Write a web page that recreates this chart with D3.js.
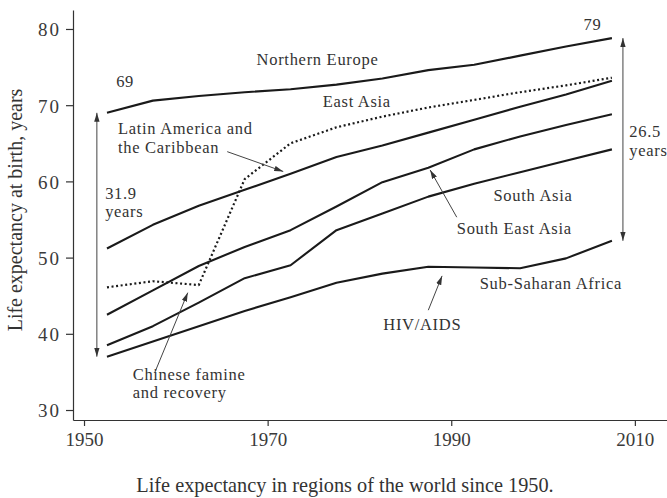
<!DOCTYPE html>
<html>
<meta charset="utf-8">
<title>Life expectancy in regions of the world since 1950</title>
<script src="https://d3js.org/d3.v7.min.js"></script>
<style>
body { margin: 0; background: #fff; }
text { font-family: "Liberation Serif", "Times New Roman", serif; fill: #333; }
.line { fill: none; stroke: #1a1a1a; stroke-width: 2.1; stroke-linejoin: round; }
.line.dotted { stroke-dasharray: 2, 2.6; stroke-width: 2.2; }
.axis path, .axis line { stroke: #333; stroke-width: 1.2; }
.axis text { font-size: 19px; fill: #3a3a3a; }
.note { stroke: #444; stroke-width: 1; fill: none; }
.label { font-size: 16.5px; letter-spacing: 0.7px; }
</style>
<body>
<svg width="667" height="498"></svg>
<script>
// five-year period midpoints
var years = [1952.5, 1957.5, 1962.5, 1967.5, 1972.5, 1977.5, 1982.5, 1987.5, 1992.5, 1997.5, 2002.5, 2007.5];

var northernEurope   = [69.0, 70.6, 71.2, 71.7, 72.1, 72.7, 73.5, 74.6, 75.3, 76.5, 77.7, 78.8];
var eastAsia         = [46.1, 46.9, 46.4, 60.3, 65.0, 67.1, 68.5, 69.7, 70.7, 71.7, 72.6, 73.6];
var latinAmerica     = [51.2, 54.3, 56.8, 58.9, 61.0, 63.2, 64.7, 66.4, 68.1, 69.8, 71.4, 73.2];
var southEastAsia    = [42.5, 45.7, 48.9, 51.4, 53.6, 56.7, 59.9, 61.8, 64.2, 65.9, 67.4, 68.8];
var southAsia        = [38.5, 41.0, 44.1, 47.3, 49.0, 53.6, 55.8, 58.0, 59.7, 61.2, 62.7, 64.2];
var subSaharanAfrica = [37.0, 39.0, 41.0, 43.0, 44.8, 46.7, 47.9, 48.8, 48.7, 48.6, 49.9, 52.2];

var xTicks = [1950, 1970, 1990, 2010];
var yTicks = [30, 40, 50, 60, 70, 80];

var svg = d3.select("svg");

var x = d3.scaleLinear().domain([1948.8, 2013.5]).range([73, 667]),
    y = d3.scaleLinear().domain([28.69, 82.49]).range([420, 10]);

var series = [
  { name: "Northern Europe", values: northernEurope },
  { name: "East Asia", values: eastAsia, dotted: true },
  { name: "Latin America and the Caribbean", values: latinAmerica },
  { name: "South East Asia", values: southEastAsia },
  { name: "South Asia", values: southAsia },
  { name: "Sub-Saharan Africa", values: subSaharanAfrica }
];

// arrowheads
var defs = svg.append("defs");
defs.append("marker")
  .attr("id", "head")
  .attr("viewBox", "0 0 10 6")
  .attr("refX", 10).attr("refY", 3)
  .attr("markerUnits", "userSpaceOnUse")
  .attr("markerWidth", 9).attr("markerHeight", 5.5)
  .attr("orient", "auto-start-reverse")
  .append("path")
  .attr("d", "M0,0L10,3L0,6z")
  .attr("fill", "#333");

// axes
svg.append("g")
  .attr("class", "axis")
  .attr("transform", "translate(0," + y.range()[0] + ")")
  .call(d3.axisBottom(x).tickValues(xTicks).tickFormat(d3.format("d")).tickSize(6).tickSizeOuter(0).tickPadding(7));

svg.append("g")
  .attr("class", "axis")
  .attr("transform", "translate(" + x.range()[0] + ",0)")
  .call(d3.axisLeft(y).tickValues(yTicks).tickSize(7).tickSizeOuter(0).tickPadding(5))
  .selectAll("text").attr("letter-spacing", "2px").attr("dy", "0.36em");

// lines
var line = d3.line()
  .x(function(d, i) { return x(years[i]); })
  .y(function(d) { return y(d); });

svg.selectAll(".line")
  .data(series)
  .enter().append("path")
  .attr("class", function(d) { return d.dotted ? "line dotted" : "line"; })
  .attr("d", function(d) { return line(d.values); });

// range arrows at start and end
var first = 0, last = years.length - 1;
var spans = [
  { year: 1951.4, top: northernEurope[first], bottom: subSaharanAfrica[first] },
  { year: 2008.7, top: northernEurope[last], bottom: subSaharanAfrica[last] }
];
svg.selectAll(".span")
  .data(spans)
  .enter().append("line")
  .attr("class", "note span")
  .attr("x1", function(d) { return x(d.year); })
  .attr("x2", function(d) { return x(d.year); })
  .attr("y1", function(d) { return y(d.top); })
  .attr("y2", function(d) { return y(d.bottom); })
  .attr("marker-start", "url(#head)")
  .attr("marker-end", "url(#head)");

// pointer arrows [from, to] in year/value
var pointers = [
  [[1965.6, 63.9], [1971.7, 61.3]],
  [[1990.6, 55.3], [1987.7, 61.5]],
  [[1987.5, 43.1], [1989.0, 47.6]],
  [[1957.7, 34.9], [1961.3, 45.4]]
];
svg.selectAll(".pointer")
  .data(pointers)
  .enter().append("line")
  .attr("class", "note pointer")
  .attr("x1", function(d) { return x(d[0][0]); })
  .attr("y1", function(d) { return y(d[0][1]); })
  .attr("x2", function(d) { return x(d[1][0]); })
  .attr("y2", function(d) { return y(d[1][1]); })
  .attr("marker-end", "url(#head)");

// text labels: left edge at year, first baseline at value, extra lines below
var lead = 18.5;
var labels = [
  { lines: ["Northern Europe"], year: 1968.8, value: 75.3 },
  { lines: ["69"], year: 1953.5, value: 72.4 },
  { lines: ["79"], year: 2004.4, value: 79.9 },
  { lines: ["East Asia"], year: 1976.0, value: 69.8 },
  { lines: ["Latin America and", "the Caribbean"], year: 1953.7, value: 66.2 },
  { lines: ["31.9", "years"], year: 1952.3, value: 57.7 },
  { lines: ["26.5", "years"], year: 2009.4, value: 65.8 },
  { lines: ["South Asia"], year: 1994.6, value: 57.4 },
  { lines: ["South East Asia"], year: 1990.6, value: 53.1 },
  { lines: ["Sub-Saharan Africa"], year: 1993.1, value: 45.9 },
  { lines: ["HIV/AIDS"], year: 1982.6, value: 40.5 },
  { lines: ["Chinese famine", "and recovery"], year: 1955.3, value: 34.0 }
];
labels.forEach(function(d) {
  d.lines.forEach(function(s, i) {
    svg.append("text")
      .attr("class", "label")
      .attr("x", x(d.year))
      .attr("y", y(d.value) + i * lead)
      .text(s);
  });
});

// axis title and caption
svg.append("text")
  .attr("transform", "translate(22,210) rotate(-90)")
  .attr("text-anchor", "middle")
  .attr("font-size", 20)
  .text("Life expectancy at birth, years");

svg.append("text")
  .attr("x", 345)
  .attr("y", 492)
  .attr("text-anchor", "middle")
  .attr("font-size", 20.3)
  .text("Life expectancy in regions of the world since 1950.");
</script>
</body>
</html>
